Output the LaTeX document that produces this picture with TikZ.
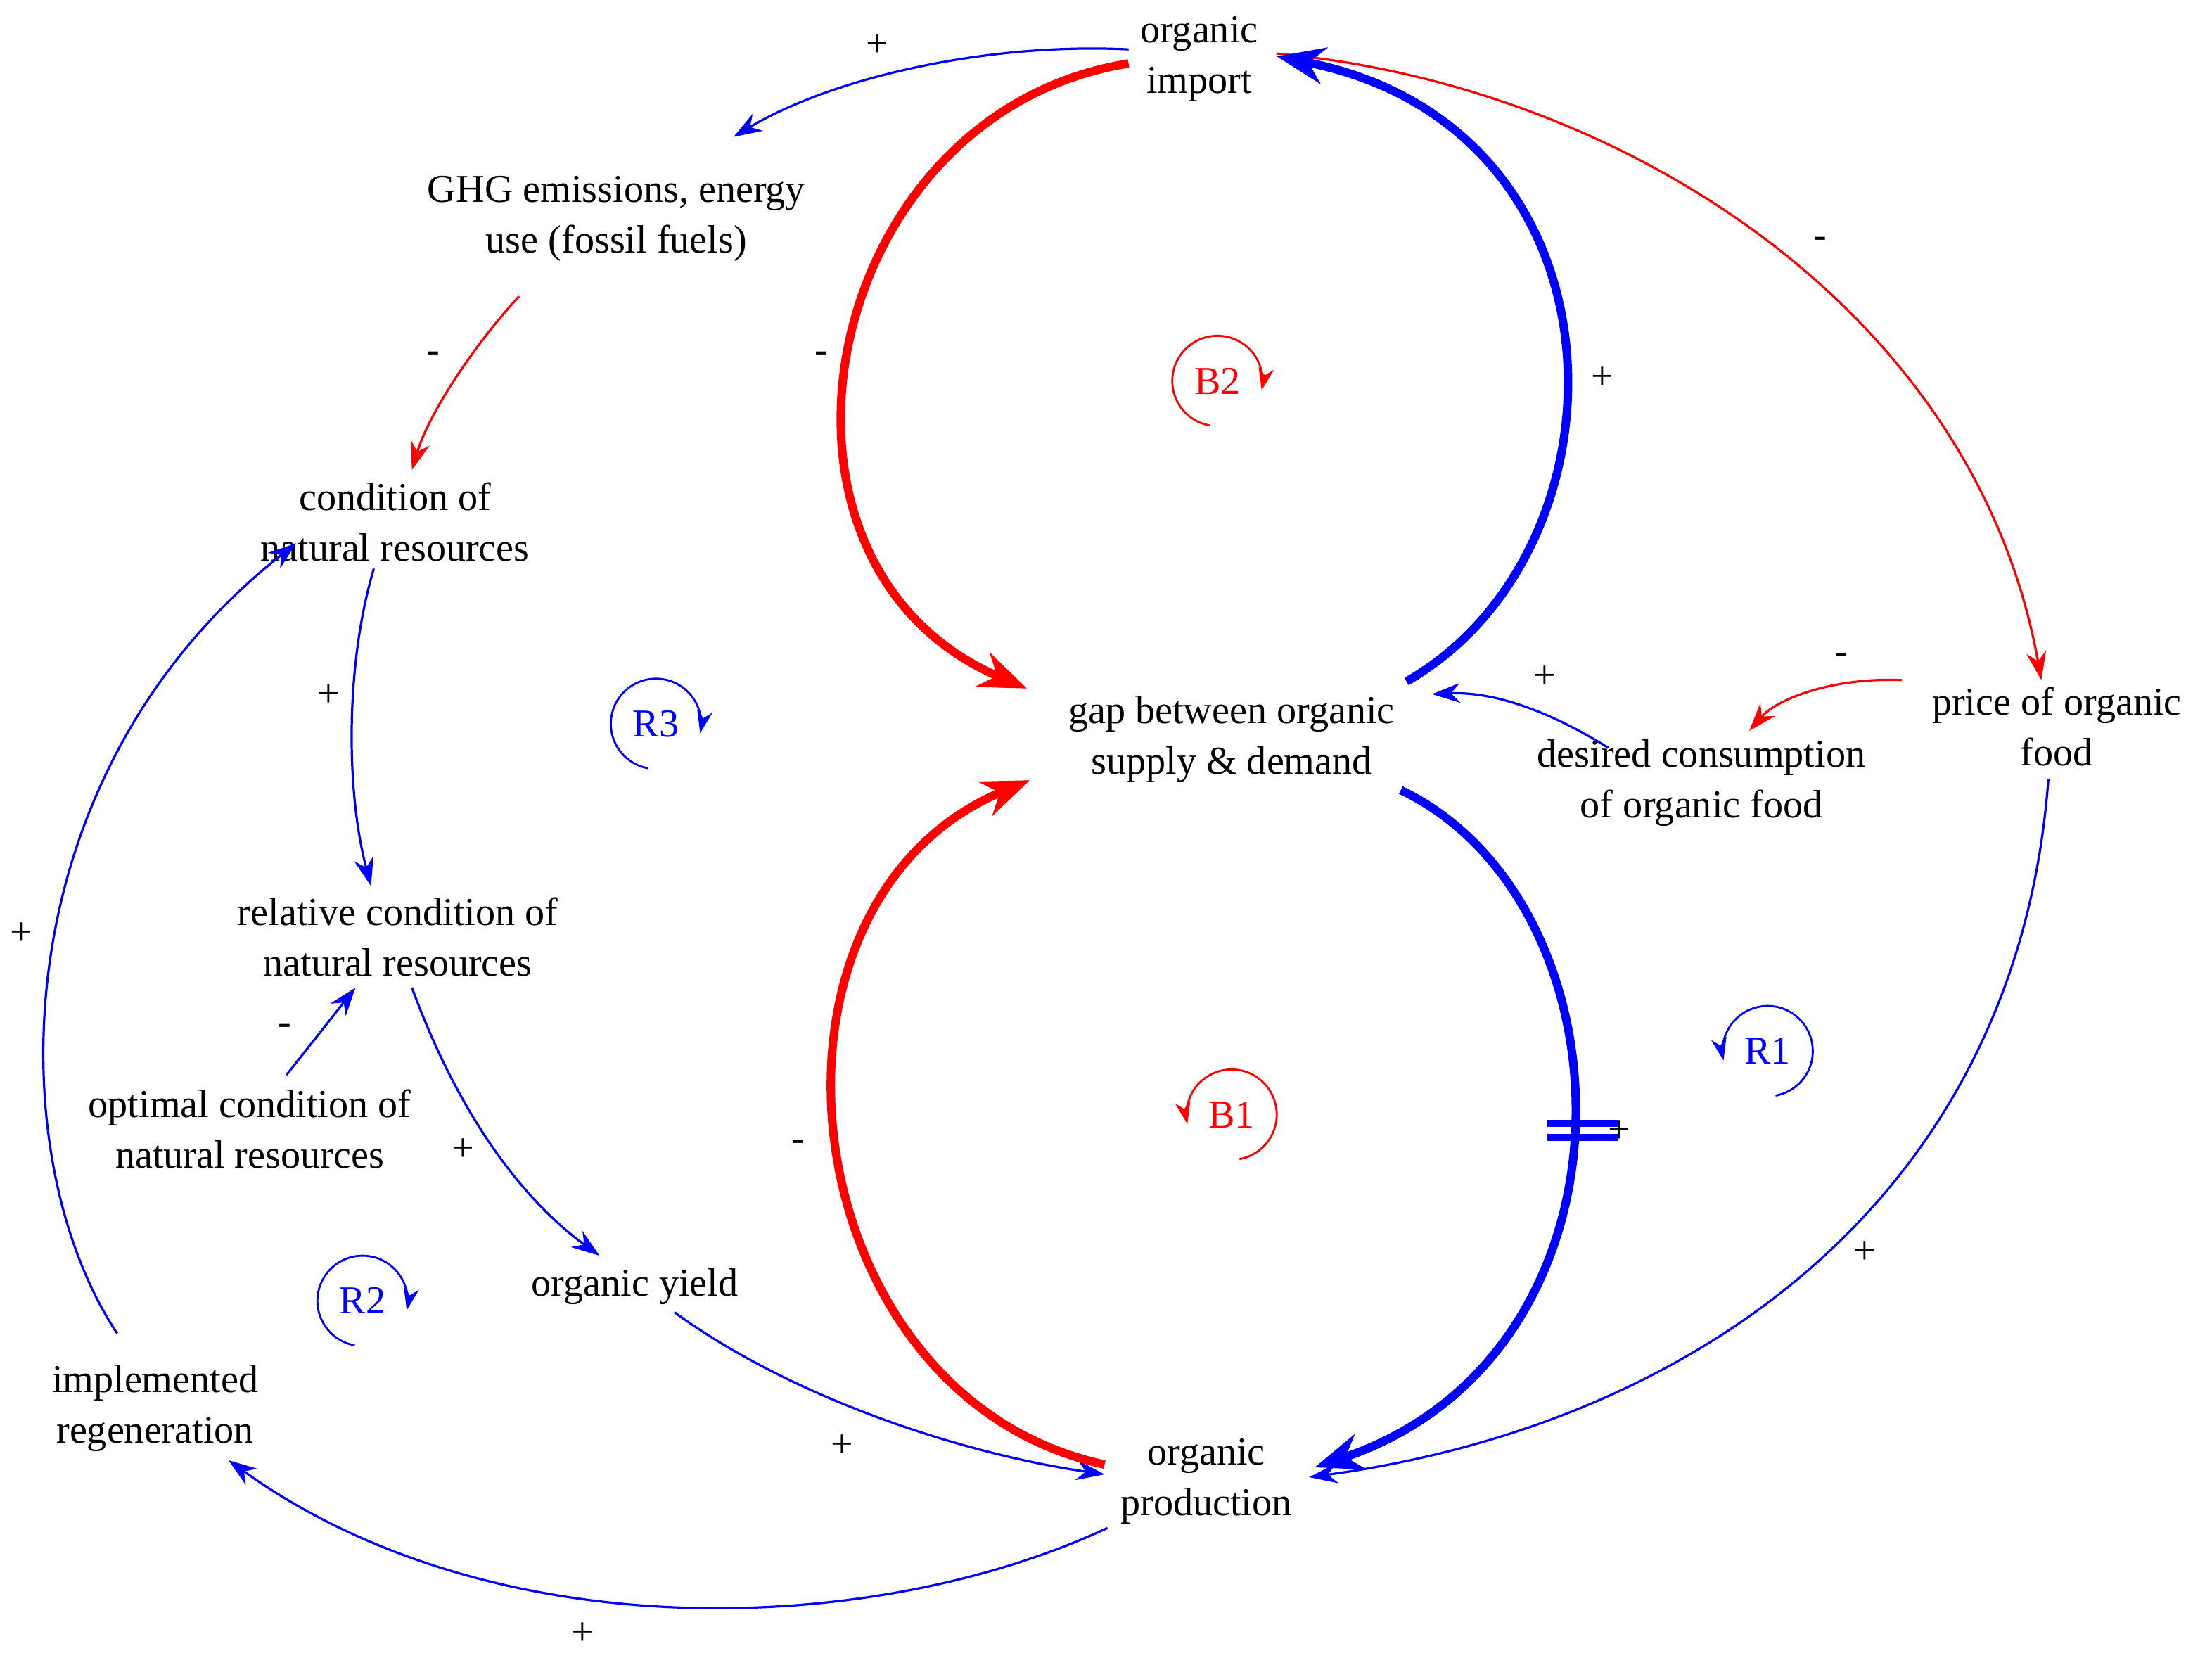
\documentclass[tikz,border=0pt]{standalone}
\usepackage{fontspec}
\setmainfont{Liberation Serif}
\usetikzlibrary{arrows.meta}
\begin{document}
\begin{tikzpicture}[x=1pt,y=-1pt,
  lbl/.style={font=\fontsize{28}{36}\selectfont,align=center,inner sep=0pt},
  sg/.style={font=\fontsize{28}{36}\selectfont,inner sep=0pt},
  tb/.style={draw=blue,line width=1.6pt,-{Stealth[length=20pt,width=14pt]}},
  tr/.style={draw=red,line width=1.6pt,-{Stealth[length=20pt,width=14pt]}},
  kb/.style={draw=blue,line width=6pt,-{Stealth[length=34pt,width=26pt]}},
  kr/.style={draw=red,line width=6pt,-{Stealth[length=34pt,width=26pt]}},
  loopb/.style={draw=blue,line width=1.4pt,-{Stealth[length=16pt,width=11pt]}},
  loopr/.style={draw=red,line width=1.4pt,-{Stealth[length=16pt,width=11pt]}}]
\useasboundingbox (0,0) rectangle (1568,1180);
\fill[white] (0,0) rectangle (1568,1180);
% nodes
\node[lbl] (imp) at (850,42) {organic\\import};
\node[lbl] (ghg) at (437,155) {GHG emissions, energy\\use (fossil fuels)};
\node[lbl] (cond) at (280,370) {condition of\\natural resources};
\node[lbl] (rel) at (282,664) {relative condition of\\natural resources};
\node[lbl] (opt) at (177,800) {optimal condition of\\natural resources};
\node[lbl] (yld) at (450,912) {organic yield};
\node[lbl] (reg) at (110,998) {implemented\\regeneration};
\node[lbl] (prod) at (855,1050) {organic\\production};
\node[lbl] (gap) at (873,524) {gap between organic\\supply \& demand};
\node[lbl] (des) at (1206,555) {desired consumption\\of organic food};
\node[lbl] (price) at (1458,515) {price of organic\\food};
% endpoints
\coordinate (a1) at (800,35); \coordinate (b1) at (520,97);
\coordinate (a2) at (368,210); \coordinate (b2) at (292,333);
\coordinate (a3) at (265,403); \coordinate (b3) at (263,628);
\coordinate (a4) at (203,762); \coordinate (b4) at (252,700);
\coordinate (a5) at (292,700); \coordinate (b5) at (425,890);
\coordinate (a6) at (478,930); \coordinate (b6) at (783,1045);
\coordinate (a7) at (785,1083); \coordinate (b7) at (162,1035);
\coordinate (a8) at (83,945); \coordinate (b8) at (210,385);
\coordinate (a9) at (905,38); \coordinate (b9) at (1447,482);
\coordinate (a10) at (1348,482); \coordinate (b10) at (1240,518);
\coordinate (a11) at (1140,530); \coordinate (b11) at (1015,492);
\coordinate (a12) at (1452,552); \coordinate (b12) at (928,1047);
\coordinate (a13) at (800,45); \coordinate (b13) at (728,488);
\coordinate (a14) at (997,483); \coordinate (b14) at (905,40);
\coordinate (a15) at (783,1038); \coordinate (b15) at (730,553);
\coordinate (a16) at (993,560); \coordinate (b16) at (932,1040);
% thin links
\draw[tb] (a1) .. controls (700,30) and (590,55) .. (b1);
\draw[tr] (a2) .. controls (340,240) and (305,290) .. (b2);
\draw[tb] (a3) .. controls (245,470) and (245,560) .. (b3);
\draw[tb] (a4) -- (b4);
\draw[tb] (a5) .. controls (325,790) and (370,850) .. (b5);
\draw[tb] (a6) .. controls (560,990) and (680,1030) .. (b6);
\draw[tb] (a7) .. controls (620,1160) and (350,1170) .. (b7);
\draw[tb] (a8) .. controls (0,820) and (0,550) .. (b8);
\draw[tr] (a9) .. controls (1150,60) and (1400,220) .. (b9);
\draw[tr] (a10) .. controls (1300,480) and (1260,495) .. (b10);
\draw[tb] (a11) .. controls (1100,505) and (1060,490) .. (b11);
\draw[tb] (a12) .. controls (1430,850) and (1200,1010) .. (b12);
% thick links
\draw[kr] (a13) .. controls (580,80) and (520,400) .. (b13);
\draw[kb] (a14) .. controls (1160,390) and (1160,90) .. (b14);
\draw[kr] (a15) .. controls (560,990) and (520,640) .. (b15);
\draw[kb] (a16) .. controls (1160,640) and (1170,960) .. (b16);
\draw[blue,line width=5pt] (1097,796) -- (1147,796);
\draw[blue,line width=5pt] (1097,806) -- (1147,806);
% signs
\node[sg] at (622,32) {+};
\node[sg] at (307,253) {-};
\node[sg] at (233,493) {+};
\node[sg] at (202,730) {-};
\node[sg] at (328,815) {+};
\node[sg] at (597,1025) {+};
\node[sg] at (413,1158) {+};
\node[sg] at (15,662) {+};
\node[sg] at (1290,172) {-};
\node[sg] at (1305,467) {-};
\node[sg] at (1095,480) {+};
\node[sg] at (1322,888) {+};
\node[sg] at (582,253) {-};
\node[sg] at (1136,268) {+};
\node[sg] at (566,812) {-};
\node[sg] at (1148,802) {+};
% loops
\node[lbl,text=red] (B2) at (863,270) {B2};
\draw[loopr] (863,270) ++(100:32) arc (100:372:32);
\node[lbl,text=blue] (R3) at (465,513) {R3};
\draw[loopb] (465,513) ++(100:32) arc (100:372:32);
\node[lbl,text=blue] (R2) at (257,922) {R2};
\draw[loopb] (257,922) ++(100:32) arc (100:372:32);
\node[lbl,text=red] (B1) at (873,790) {B1};
\draw[loopr] (873,790) ++(80:32) arc (80:-192:32);
\node[lbl,text=blue] (R1) at (1253,745) {R1};
\draw[loopb] (1253,745) ++(80:32) arc (80:-192:32);
\end{tikzpicture}
\end{document}
